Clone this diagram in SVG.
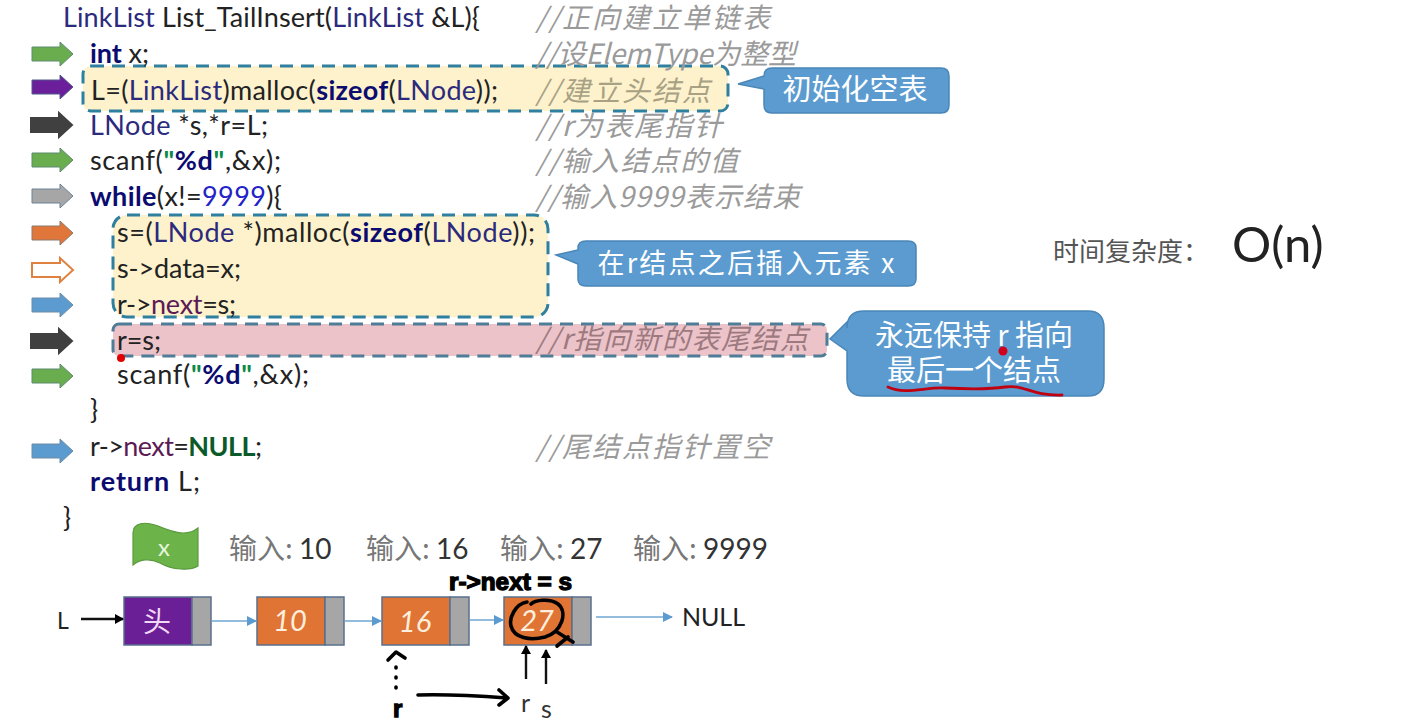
<svg xmlns="http://www.w3.org/2000/svg" width="1404" height="723" viewBox="0 0 1404 723">
<style>
text{font-family:"Lato","Liberation Sans","Noto Sans CJK SC",sans-serif}
.c{font-size:27px;fill:#222}
.t{fill:#2b2a7c}.k{font-weight:700;fill:#0b0b70}.p{fill:#5c1a55}.s{font-weight:700;fill:#0a8a4a}.n{fill:#2222c8}.g{font-weight:700;fill:#0c5a2a}
.m{font-family:"Noto Sans CJK SC",sans-serif;font-size:28px;font-style:italic;fill:#9a9a9a}
.w{font-family:"Noto Sans CJK SC",sans-serif;fill:#fff;font-size:29px;text-anchor:middle}
.i{font-family:"Noto Sans CJK SC","Lato",sans-serif;font-size:28px;fill:#777}
.v{font-family:"Lato",sans-serif;fill:#333}
.b{stroke-width:1.5;stroke:#5a6f8c}
.box{stroke:#2f7f9f;stroke-width:3;stroke-dasharray:13 8}
.call{fill:#5b9bd0;stroke:#4a87b8;stroke-width:1.5}
.link{stroke:#6fa6d2;stroke-width:1.6;fill:none;marker-end:url(#bh)}
.blk{stroke:#111;stroke-width:2.4;fill:none;marker-end:url(#kh)}
.ink{stroke:#000;stroke-width:3.6;fill:none;stroke-linecap:round;stroke-linejoin:round}
.hand{font-family:"Liberation Sans",sans-serif;font-weight:700;fill:#000;stroke:#000;stroke-width:1.3}
</style>
<defs>
<marker id="bh" markerUnits="userSpaceOnUse" markerWidth="10" markerHeight="10" refX="9" refY="5" orient="auto"><path d="M0 0L10 5L0 10Z" fill="#5b9bd0"/></marker>
<marker id="kh" markerUnits="userSpaceOnUse" markerWidth="9" markerHeight="10" refX="8" refY="5" orient="auto"><path d="M0 0L9 5L0 10Z" fill="#000"/></marker>
<path id="ar" d="M0-7H28V-12L41 0L28 12V7H0Z"/>
</defs>
<rect width="1404" height="723" fill="#fff"/>

<g id="highlight-boxes">
<rect class="box" x="83" y="66" width="645" height="45" rx="8" fill="#fdf2cc"/>
<rect class="box" x="113" y="215" width="435" height="102" rx="14" fill="#fdf2cc"/>
<rect class="box" x="113" y="324" width="714" height="32" rx="6" fill="#ecc3c9" style="stroke:#4f7d98"/>
</g>

<g id="step-arrows">
<use href="#ar" x="32" y="54" fill="#6aad4f" stroke="#5f8a70"/>
<use href="#ar" x="32" y="87" fill="#6b1f9b" stroke="#4f5a8a"/>
<use href="#ar" x="31" y="125" fill="#404040" stroke="#404040" stroke-width="2"/>
<use href="#ar" x="32" y="160" fill="#6aad4f" stroke="#5f8a70"/>
<use href="#ar" x="32" y="196" fill="#a6a6a6" stroke="#6b8296"/>
<use href="#ar" x="32" y="233" fill="#e0763a" stroke="#8a7a6a"/>
<use href="#ar" x="32" y="270" fill="#fff" stroke="#e0823f" stroke-width="2"/>
<use href="#ar" x="32" y="305" fill="#5b9bd0" stroke="#6f8ca4"/>
<use href="#ar" x="31" y="341" fill="#404040" stroke="#404040" stroke-width="2"/>
<use href="#ar" x="32" y="376" fill="#6aad4f" stroke="#5f8a70"/>
<use href="#ar" x="32" y="451" fill="#5b9bd0" stroke="#6f8ca4"/>
</g>

<g id="code">
<text class="c" x="63" y="27" textLength="417"><tspan class="t">LinkList</tspan> List_TailInsert(<tspan class="t">LinkList</tspan> &amp;L){</text>
<text class="c" x="90" y="63" textLength="59"><tspan class="k">int</tspan> x;</text>
<text class="c" x="91" y="100" textLength="407">L=(<tspan class="t">LinkList</tspan>)malloc(<tspan class="k">sizeof</tspan>(<tspan class="t">LNode</tspan>));</text>
<text class="c" x="90" y="135" textLength="178"><tspan class="t">LNode</tspan> *s,*r=L;</text>
<text class="c" x="90" y="170" textLength="191">scanf(<tspan class="s">"</tspan><tspan class="k">%d</tspan><tspan class="s">"</tspan>,&amp;x);</text>
<text class="c" x="90" y="206" textLength="192"><tspan class="k">while</tspan>(x!=<tspan class="n">9999</tspan>){</text>
<text class="c" x="117" y="242" textLength="418">s=(<tspan class="t">LNode</tspan> *)malloc(<tspan class="k">sizeof</tspan>(<tspan class="t">LNode</tspan>));</text>
<text class="c" x="117" y="278" textLength="124">s-&gt;data=x;</text>
<text class="c" x="117" y="314" textLength="119">r-&gt;<tspan class="p">next</tspan>=s;</text>
<text class="c" x="117" y="350" textLength="44">r=s;</text>
<text class="c" x="117" y="384" textLength="192">scanf(<tspan class="s">"</tspan><tspan class="k">%d</tspan><tspan class="s">"</tspan>,&amp;x);</text>
<text class="c" x="90" y="419">}</text>
<text class="c" x="90" y="456" textLength="172">r-&gt;<tspan class="p">next</tspan>=<tspan class="g">NULL</tspan>;</text>
<text class="c" x="90" y="491" textLength="110"><tspan class="k">return</tspan>  L;</text>
<text class="c" x="63" y="527">}</text>
</g>

<g id="comments">
<text class="m" x="536" y="28" textLength="234">//正向建立单链表</text>
<text class="m" x="536" y="64" textLength="260">//设ElemType为整型</text>
<text class="m" x="536" y="101" textLength="174" style="fill:#a8a184">//建立头结点</text>
<text class="m" x="536" y="136" textLength="186">//r为表尾指针</text>
<text class="m" x="536" y="171" textLength="202">//输入结点的值</text>
<text class="m" x="536" y="207" textLength="264">//输入9999表示结束</text>
<text class="m" x="536" y="349" textLength="272" style="fill:#9c7a80">//r指向新的表尾结点</text>
<text class="m" x="536" y="457" textLength="234">//尾结点指针置空</text>
</g>

<g id="callout-init">
<path class="call" d="M764 76Q764 68 772 68H941Q949 68 949 76V105Q949 113 941 113H772Q764 113 764 105V89L738 84Z"/>
<text class="w" x="855" y="100">初始化空表</text>
</g>
<g id="callout-insert">
<path class="call" d="M578 248Q578 241 586 241H908Q916 241 916 248V279Q916 286 908 286H586Q578 286 578 279V264L556 255L578 250Z"/>
<text class="w" x="746" y="273" textLength="297" style="font-size:27px">在r结点之后插入元素 x</text>
</g>
<g id="callout-keep">
<path class="call" d="M847 328Q847 311 864 311H1088Q1104 311 1104 328V379Q1104 396 1088 396H864Q847 396 847 379V351L830 339L847 322Z"/>
<text class="w" x="974" y="346" textLength="198">永远保持 r 指向</text>
<text class="w" x="974" y="381">最后一个结点</text>
</g>

<g id="complexity">
<text x="1053" y="261" style="font-family:'Noto Sans CJK SC',sans-serif;font-size:26px;fill:#555">时间复杂度：</text>
<text x="1232" y="262" style="font-family:'Lato',sans-serif;font-size:49px;fill:#222">O(n)</text>
</g>

<g id="x-flag">
<path d="M133 533C133 522 146 522 155 525C170 531 186 538 198 528V566C190 571 172 570 160 563C150 558 140 559 133 565Z" fill="#6cb44a" stroke="#5a9a3e" stroke-width="1.2"/>
<text x="164" y="556" style="font-family:'Lato',sans-serif;font-size:24px;fill:#e6f5dc;text-anchor:middle">x</text>
</g>

<g id="inputs">
<text class="i" x="229" y="559">输入: <tspan class="v">10</tspan></text>
<text class="i" x="366" y="559">输入: <tspan class="v">16</tspan></text>
<text class="i" x="500" y="559">输入: <tspan class="v">27</tspan></text>
<text class="i" x="633" y="559">输入: <tspan class="v">9999</tspan></text>
</g>

<g id="node-head">
<rect class="b" x="124" y="597" width="68" height="48" fill="#6a1f96"/><rect class="b" x="192" y="597" width="19" height="48" fill="#a6a6a6"/>
<text x="157" y="632" style="font-family:'Noto Sans CJK SC',sans-serif;font-size:28px;fill:#f4d8f8;text-anchor:middle">头</text>
</g>
<g id="node-10">
<rect class="b" x="257" y="597" width="68" height="48" fill="#e07434"/><rect class="b" x="325" y="597" width="19" height="48" fill="#a6a6a6"/>
<text x="290" y="631" style="font-family:'Lato',sans-serif;font-size:29px;font-style:italic;fill:#fdeedd;text-anchor:middle">10</text>
</g>
<g id="node-16">
<rect class="b" x="382" y="597" width="68" height="48" fill="#e07434"/><rect class="b" x="450" y="597" width="19" height="48" fill="#a6a6a6"/>
<text x="415" y="632" style="font-family:'Lato',sans-serif;font-size:29px;font-style:italic;fill:#fdeedd;text-anchor:middle">16</text>
</g>
<g id="node-27">
<rect class="b" x="504" y="597" width="68" height="48" fill="#e07434"/><rect class="b" x="572" y="597" width="19" height="48" fill="#a6a6a6"/>
<text x="537" y="631" style="font-family:'Lato',sans-serif;font-size:29px;font-style:italic;fill:#fdeedd;text-anchor:middle">27</text>
</g>

<g id="labels">
<text x="57" y="629" style="font-family:'Lato',sans-serif;font-size:23px;fill:#222">L</text>
<text x="682" y="626" textLength="63" style="font-family:'Lato',sans-serif;font-size:25px;fill:#222">NULL</text>
<text x="521" y="712" style="font-family:'Lato',sans-serif;font-size:25px;fill:#333">r</text>
<text x="541" y="718" style="font-family:'Lato',sans-serif;font-size:25px;fill:#333">s</text>
</g>

<g id="connectors">
<path class="blk" d="M81 619H123"/>
<path class="link" d="M212 621H256"/>
<path class="link" d="M345 621H381"/>
<path class="link" d="M470 620H503"/>
<path class="link" d="M596 617H672"/>
<path class="blk" d="M526 679V646"/>
<path class="blk" d="M546 684V650"/>
</g>

<g id="ink-annotations">
<path d="M888 387C905 395 925 387 945 388S985 390 1005 387S1030 396 1062 395" fill="none" stroke="#c00010" stroke-width="2.8" stroke-linecap="round"/>
<circle cx="1003" cy="351" r="4.5" fill="#d0021b"/>
<circle cx="121" cy="358" r="4" fill="#e00000"/>
<path class="ink" d="M527 602C515 604 509 618 511 626C514 638 530 641 545 637C562 632 568 612 558 604C550 598 535 600 531 604"/>
<path class="ink" d="M557 646L568 637M557 632L573 642"/>
<path class="ink" d="M388 660L396 652L405 658"/>
<path class="ink" stroke-dasharray="1 9" d="M396 667V696"/>
<path class="ink" d="M418 695C450 694 480 696 507 698M499 690L508 698L499 705"/>
<text class="hand" x="393" y="717" style="font-size:24px">r</text>
<text class="hand" x="449" y="590" style="font-size:23px" textLength="123" lengthAdjust="spacingAndGlyphs">r-&gt;next = s</text>
</g>
</svg>
